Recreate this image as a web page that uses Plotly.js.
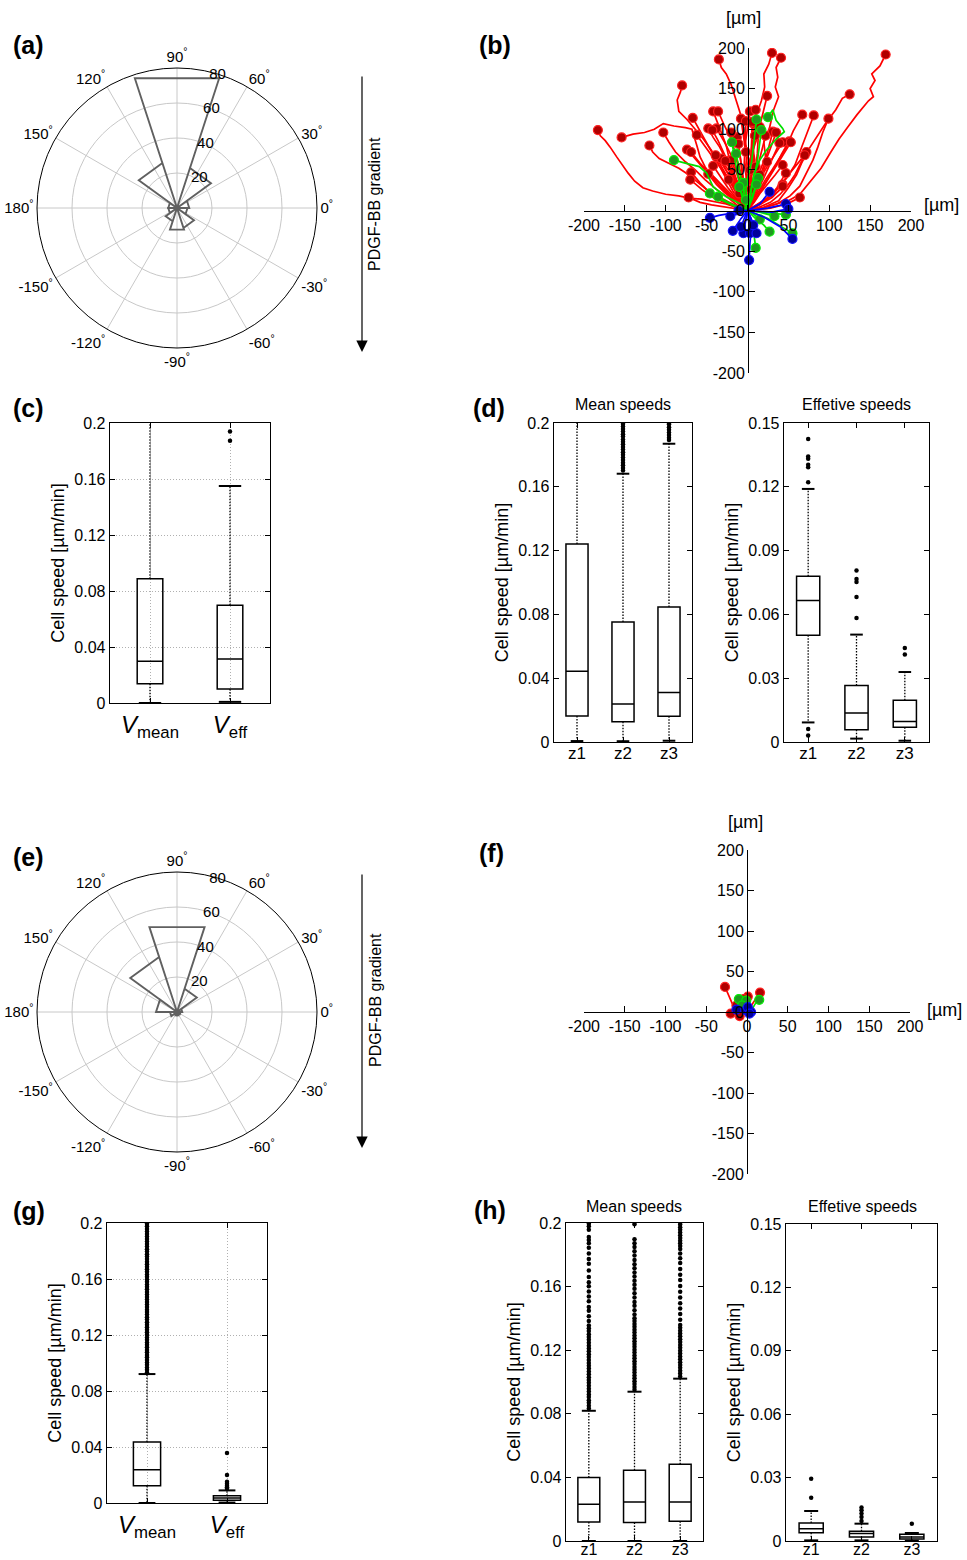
<!DOCTYPE html>
<html><head><meta charset="utf-8">
<script src="https://cdn.plot.ly/plotly-3.0.1.min.js"></script>
<style>body{margin:0;background:#fff}#chart{width:967px;height:1560px}</style>
</head><body><div id="chart"></div>
<script>
// ---------------- DATA ----------------
// Rose histograms (bin centres in degrees, counts)
const roseBins = [18, 54, 90, 126, 162, 198, 234, 270, 306, 342];
const roseCountsA = [7, 24, 78, 27, 5, 5, 8, 13, 12, 6];
const roseCountsE = [3, 14, 51, 33, 12, 4, 2, 2, 2, 2];
const angleTickVals = [0, 30, 60, 90, 120, 150, 180, 210, 240, 270, 300, 330];
const angleTickText = ['0','30','60','90','120','150','180','-150','-120','-90','-60','-30'];
const radialTicks = [20, 40, 60, 80];

// Trajectories panel (b)  [x, y] in µm
const redTracksB = [
 [[0,0],[3,12],[8,28],[4,45],[9,62],[6,80],[12,98],[11,118],[17,135],[21,152],[20,168],[26,180],[30,194]],
 [[0,0],[6,14],[12,30],[15,48],[22,66],[20,84],[27,102],[32,124],[38,140],[34,152],[37,164],[35,176],[41,188]],
 [[0,0],[-3,18],[-1,38],[2,60],[-2,80],[-5,102],[-9,120],[-15,138],[-20,155],[-26,168],[-32,176],[-35,186]],
 [[0,2],[18,3],[35,8],[50,12],[64,20],[78,38],[90,52],[102,72],[112,88],[122,102],[134,118],[148,135],[154,140],[150,150],[156,160],[152,168],[162,178],[169,192]],
 [[0,0],[20,4],[38,12],[50,28],[60,44],[66,58],[74,74],[84,90],[96,108],[108,124],[116,138],[125,143]],
 [[0,0],[-6,12],[-14,26],[-24,40],[-34,58],[-44,74],[-54,88],[-64,100],[-74,112],[-84,122],[-86,136],[-82,146],[-80,154]],
 [[0,0],[4,16],[2,34],[8,52],[6,72],[12,90],[16,108],[20,124],[24,141]],
 [[0,0],[-5,14],[-10,30],[-16,46],[-22,62],[-26,80],[-32,96],[-38,110],[-42,122]],
 [[0,0],[-2,18],[-6,36],[-10,54],[-16,72],[-20,88],[-28,104],[-32,114],[-36,122]],
 [[0,0],[3,20],[-1,40],[2,60],[-3,80],[0,100],[2,112],[3,122]],
 [[0,0],[-3,22],[-1,44],[4,66],[6,86],[9,106],[10,124]],
 [[0,0],[-8,10],[-18,24],[-26,40],[-36,58],[-46,76],[-54,90],[-62,104],[-67,114]],
 [[0,0],[8,12],[16,24],[24,38],[34,54],[42,70],[50,84],[56,98],[62,110],[67,118]],
 [[0,0],[12,6],[24,14],[36,26],[48,40],[58,56],[64,72],[70,88],[76,104],[81,117]],
 [[0,0],[18,3],[36,8],[52,18],[64,30],[72,46],[80,62],[86,78],[92,96],[99,113]],
 [[0,0],[-12,3],[-26,8],[-40,11],[-56,14],[-70,15],[-84,18],[-100,20],[-116,24],[-128,28],[-138,36],[-146,46],[-152,54],[-160,66],[-168,78],[-174,86],[-180,92],[-183,99]],
 [[0,0],[-10,8],[-22,18],[-34,30],[-44,42],[-52,54],[-58,66],[-62,80],[-66,92],[-68,100],[-76,102],[-90,104],[-103,107],[-114,100],[-126,96],[-140,94],[-154,90]],
 [[0,0],[-12,6],[-24,16],[-38,26],[-52,38],[-64,50],[-76,60],[-88,72],[-96,84],[-103,96]],
 [[0,0],[-6,12],[-14,26],[-24,40],[-34,54],[-44,68],[-52,80],[-58,88],[-62,93]],
 [[0,0],[-4,14],[-10,30],[-18,46],[-26,62],[-34,78],[-42,90],[-48,101]],
 [[0,0],[-2,16],[-8,34],[-14,52],[-20,68],[-28,84],[-34,94],[-38,101]],
 [[0,0],[2,18],[-1,38],[-4,58],[-3,78],[-6,96],[-8,113]],
 [[0,0],[-2,15],[-4,32],[-6,48],[-9,66],[-11,80],[-13,90]],
 [[0,0],[-10,4],[-22,10],[-34,16],[-48,24],[-60,34],[-72,44],[-84,52],[-96,58],[-108,64],[-116,72],[-120,80]],
 [[0,0],[-8,8],[-18,18],[-30,30],[-42,42],[-54,52],[-64,64],[-74,75]],
 [[0,0],[-8,6],[-18,16],[-28,26],[-38,38],[-48,48],[-58,58],[-69,72]],
 [[0,0],[6,12],[14,24],[22,38],[30,50],[38,62],[44,72],[51,85]],
 [[0,0],[4,12],[10,26],[16,40],[24,54],[32,66],[38,76],[43,84]],
 [[0,0],[10,6],[22,14],[34,24],[44,36],[54,48],[62,58],[68,66],[72,72]],
 [[0,0],[14,4],[28,10],[40,20],[50,32],[58,44],[64,56],[70,68]],
 [[0,0],[-4,10],[-10,22],[-16,34],[-24,46],[-30,56],[-38,66]],
 [[0,0],[-6,12],[-10,24],[-16,36],[-22,48],[-28,56],[-32,64]],
 [[0,0],[-2,12],[-6,24],[-10,36],[-14,48],[-18,56],[-20,62]],
 [[0,0],[2,14],[4,28],[0,42],[-2,56],[-1,66],[-2,72]],
 [[0,0],[4,10],[8,20],[12,32],[16,42],[20,52],[24,60]],
 [[0,0],[8,4],[18,10],[28,18],[36,28],[42,38],[47,46]],
 [[0,0],[-12,4],[-24,10],[-36,16],[-48,24],[-58,34],[-69,47]],
 [[0,0],[-8,6],[-18,14],[-28,22],[-38,32],[-48,45]],
 [[0,0],[-14,4],[-28,10],[-42,16],[-56,26],[-70,38]],
 [[0,0],[-6,8],[-12,18],[-18,28],[-23,38]],
 [[0,0],[10,4],[20,10],[30,16],[38,24],[43,32]],
 [[0,0],[-14,2],[-30,5],[-44,7],[-58,10],[-72,16]],
 [[0,0],[14,1],[28,3],[40,6],[52,10],[64,16]],
 [[0,0],[2,18],[5,38],[3,58],[6,78],[5,94],[7,107]],
 [[0,0],[4,16],[8,34],[10,52],[12,70],[13,88],[15,103]],
 [[0,0],[6,14],[12,30],[18,48],[22,64],[26,80],[31,97]],
 [[0,0],[6,12],[14,26],[20,40],[26,54],[32,68],[39,83]],
 [[0,0],[-2,16],[-6,32],[-10,50],[-14,66],[-18,82],[-20,96]],
 [[0,0],[-1,14],[-4,30],[-6,46],[-8,62],[-11,82]],
 [[0,0],[-8,8],[-16,18],[-24,28],[-32,40],[-42,55]],
 [[0,0],[3,8],[6,18],[10,28],[13,36],[15,44]],
 [[0,0],[-3,6],[-6,12],[-10,21]],
 [[0,0],[-5,16],[-12,34],[-20,52],[-28,68],[-36,86],[-43,99]],
 [[0,0],[-4,12],[-10,26],[-16,40],[-22,52],[-27,61]],
 [[0,0],[-6,12],[-14,28],[-22,42],[-30,56],[-39,68]],
 [[0,0],[2,12],[0,24],[3,36],[1,44],[3,50]],
 [[0,0],[3,12],[6,24],[8,36],[9,46],[10,54]],
 [[0,0],[2,8],[3,16],[4,26]],
 [[0,0],[8,10],[16,22],[26,34],[34,44],[43,56]],
 [[0,0],[10,6],[20,12],[30,18],[38,24],[43,30]],
 [[0,0],[4,16],[8,34],[12,52],[16,68],[20,82],[22,92]],
 [[0,0],[6,16],[12,32],[18,50],[24,66],[30,82],[35,96]],
 [[0,0],[10,14],[20,30],[30,46],[38,60],[46,72],[53,84]],
 [[0,0],[2,16],[4,34],[6,52],[7,70],[9,92]],
 [[0,0],[-2,20],[1,42],[-1,64],[-3,86],[-2,110]],
 [[0,0],[3,18],[1,38],[4,60],[5,84],[6,109]]
];
const greenTracksB = [
 [[0,0],[-10,9],[-26,17],[-42,29],[-50,46],[-59,54],[-75,58],[-90,62]],
 [[0,0],[3,15],[8,45],[15,62],[23,74],[35,88],[45,97],[43,101],[35,111],[31,124],[25,115]],
 [[0,0],[-2,30],[5,60],[8,90],[11,112]],
 [[0,0],[5,30],[12,60],[17,99]],
 [[0,0],[-8,25],[-14,55],[-19,84]],
 [[0,0],[-5,25],[-10,50],[-14,70]],
 [[0,0],[5,15],[13,40]],
 [[0,0],[6,15],[11,32]],
 [[0,0],[-3,15],[-5,34]],
 [[0,0],[-15,5],[-30,12],[-46,21]],
 [[0,0],[-20,8],[-36,17]],
 [[0,0],[15,-2],[33,-7]],
 [[0,0],[25,-3],[47,-5]],
 [[0,0],[10,-10],[20,-18],[27,-26]],
 [[0,0],[25,-10],[45,-22],[55,-28]],
 [[0,0],[8,-5],[15,-11]],
 [[0,0],[5,-15],[8,-30],[10,-46]],
 [[0,0],[-2,13]],
 [[0,0],[-6,15],[-10,29]]
];
const blueTracksB = [
 [[0,0],[-20,-3],[-35,-6],[-46,-9]],
 [[0,0],[-10,-4],[-21,-7]],
 [[0,0],[-11,0]],
 [[0,0],[-8,-10],[-18,-25]],
 [[0,0],[-3,-15],[-5,-28]],
 [[0,0],[2,-15],[3,-28]],
 [[0,0],[6,-14],[11,-28]],
 [[0,0],[5,-20],[3,-40],[2,-61]],
 [[0,0],[20,-8],[40,-20],[55,-35]],
 [[0,0],[4,-9],[7,-18]],
 [[0,0],[-4,-10],[-8,-20]],
 [[0,0],[25,3],[47,8]],
 [[0,0],[15,8],[27,23]],
 [[0,0],[30,-2],[50,2]]
];
// Trajectories panel (f)
const redTracksF = [
 [[0,0],[-8,6],[-18,10],[-22,20],[-27,31]],
 [[0,0],[5,8],[10,15],[16,24]],
 [[0,0],[3,10],[1,19]],
 [[0,0],[-10,-1],[-20,-2]],
 [[0,0],[-9,-5]],
 [[0,0],[-7,4],[-13,8]],
 [[0,0],[-2,8],[-4,16]]
];
const greenTracksF = [
 [[0,0],[-5,8],[-10,16]],
 [[0,0],[6,3],[10,10],[15,15]],
 [[0,0],[-1,14]],
 [[0,0],[-6,8]]
];
const blueTracksF = [
 [[0,0],[-1,2]],
 [[0,0],[5,0]],
 [[0,0],[-13,3]],
 [[0,0],[1,6]],
 [[0,0],[3,-2]]
];
const trajTicks = [-200,-150,-100,-50,0,50,100,150,200];

// Box plots
const catsV = ['<i>V</i><sub>mean</sub>', '<i>V</i><sub>eff</sub>'];
const catsZ = ['z1', 'z2', 'z3'];
const ticks02 = [0, 0.04, 0.08, 0.12, 0.16, 0.2];
const ticks02Text = ['0', '0.04', '0.08', '0.12', '0.16', '0.2'];
const ticks015 = [0, 0.03, 0.06, 0.09, 0.12, 0.15];
const ticks015Text = ['0', '0.03', '0.06', '0.09', '0.12', '0.15'];

// (c)
const cQ1 = [0.0137, 0.0100], cMed = [0.0298, 0.0314], cQ3 = [0.0888, 0.0698];
const cLow = [0.0, 0.0008], cUp = [0.25, 0.155];
const cOut = [[], [0.1874, 0.194]];
// (d) mean speeds
const dmQ1 = [0.0163, 0.0127, 0.0161], dmMed = [0.0443, 0.0238, 0.0311], dmQ3 = [0.1241, 0.0752, 0.0846];
const dmLow = [0.0006, 0.0005, 0.0008], dmUp = [0.25, 0.1682, 0.187];
const dmOut = [[],
 [0.1702,0.1718,0.1735,0.1751,0.1768,0.1784,0.1801,0.1817,0.1834,0.1849,0.1866,0.1882,0.1897,0.1915,0.193,0.1947,0.1962,0.1978,0.1993],
 [0.1893,0.1908,0.1925,0.1941,0.1957,0.1974,0.1992]];
// (d) effective speeds
const deQ1 = [0.0502, 0.0058, 0.0069], deMed = [0.0665, 0.0136, 0.0096], deQ3 = [0.0779, 0.0266, 0.0196];
const deLow = [0.0092, 0.0016, 0.0006], deUp = [0.119, 0.0505, 0.0329];
const deOut = [[0.1425,0.1343,0.1332,0.1304,0.1292,0.1221,0.0061,0.0031],
 [0.0806,0.0766,0.0752,0.0682,0.0583],
 [0.0442,0.0411]];
// (g)
const gQ1 = [0.0124, 0.0019], gMed = [0.0238, 0.0036], gQ3 = [0.0436, 0.0052];
const gLow = [0.0, 0.0003], gUp = [0.0921, 0.009];
const gOut = [
 [0.0932,0.0951,0.0968,0.0987,0.1003,0.1022,0.1041,0.1057,0.1076,0.1093,0.1112,0.113,0.1147,0.1166,0.1183,0.1202,0.122,0.1237,0.1256,0.1273,0.1291,0.131,0.1327,0.1346,0.1364,0.1381,0.14,0.1418,0.1435,0.1454,0.1471,0.149,0.1507,0.1526,0.1544,0.1561,0.158,0.1597,0.1616,0.1633,0.1652,0.167,0.1687,0.1706,0.1723,0.1742,0.176,0.1777,0.1796,0.1813,0.1832,0.185,0.1867,0.1886,0.1903,0.1922,0.194,0.1957,0.1976,0.1994],
 [0.0357,0.0200,0.0152,0.0138,0.0124,0.0112,0.0102]];
// (h) mean speeds
const hmQ1 = [0.0120, 0.0116, 0.0124], hmMed = [0.0231, 0.0246, 0.0246], hmQ3 = [0.0399, 0.0445, 0.0483];
const hmLow = [0.0, 0.0, 0.0], hmUp = [0.0819, 0.0939, 0.1021];
const hmOut = [
 [0.0834,0.0851,0.0869,0.0886,0.0905,0.0922,0.094,0.0958,0.0976,0.0995,0.1012,0.103,0.1048,0.1066,0.1085,0.1102,0.112,0.1138,0.1157,0.1175,0.1193,0.121,0.1228,0.1247,0.1265,0.1283,0.1301,0.132,0.1338,0.1356,0.1384,0.1413,0.1448,0.1472,0.1508,0.1537,0.1569,0.1602,0.1628,0.1661,0.1702,0.1744,0.1773,0.1808,0.1845,0.1873,0.1893,0.1912,0.1958,0.1979,0.1995],
 [0.0952,0.0969,0.0987,0.1005,0.1023,0.1041,0.1059,0.1077,0.1095,0.1113,0.1131,0.1149,0.1167,0.1185,0.1203,0.1221,0.1239,0.1257,0.1275,0.1293,0.1311,0.1329,0.1347,0.1365,0.1383,0.1401,0.1425,0.1452,0.1479,0.1503,0.1531,0.1558,0.1586,0.1611,0.1637,0.1664,0.1689,0.1716,0.1741,0.1768,0.1795,0.1822,0.1849,0.1873,0.1898,0.1992],
 [0.1035,0.1053,0.1071,0.1089,0.1107,0.1125,0.1143,0.1161,0.1179,0.1197,0.1215,0.1233,0.1251,0.1269,0.1287,0.1305,0.1323,0.1341,0.1359,0.1392,0.1428,0.1463,0.1495,0.1532,0.1568,0.1603,0.1642,0.1675,0.1711,0.1748,0.1779,0.1808,0.1836,0.1855,0.1872,0.1889,0.1906,0.1923,0.194,0.1957,0.1974,0.1991]];
// (h) effective speeds
const heQ1 = [0.0039, 0.0019, 0.0009], heMed = [0.0058, 0.0035, 0.0019], heQ3 = [0.0085, 0.0046, 0.0032];
const heLow = [0.0003, 0.0003, 0.0001], heUp = [0.0142, 0.0082, 0.0038];
const heOut = [[0.0294, 0.0205], [0.0095, 0.0114, 0.013, 0.0145, 0.0158], [0.0082]];

// ---------------- HELPERS ----------------
const W = 967, H = 1560;
const xd = (a, b) => [a / W, b / W];
const yd = (t, b) => [1 - b / H, 1 - t / H];
const px = x => x / W;
const py = y => 1 - y / H;
const FONT = 'Liberation Sans, Arial, sans-serif';

function rose(counts, subplot) {
  const r = [], th = [];
  roseBins.forEach((c, i) => {
    r.push(0, counts[i], counts[i], 0);
    th.push(c - 18, c - 18, c + 18, c + 18);
  });
  return {type: 'scatterpolar', subplot, r, theta: th, mode: 'lines',
          line: {color: '#606060', width: 1.9}, hoverinfo: 'skip'};
}

function tracks(list, xa, ya, lineColor, fill, edge) {
  const x = [], y = [];
  list.forEach(t => { t.forEach(p => { x.push(p[0]); y.push(p[1]); }); x.push(null); y.push(null); });
  const ex = list.map(t => t[t.length - 1][0]);
  const ey = list.map(t => t[t.length - 1][1]);
  return [
    {type: 'scatter', x, y, xaxis: xa, yaxis: ya, mode: 'lines', line: {color: lineColor, width: 1.7}, connectgaps: false},
    {type: 'scatter', x: ex, y: ey, xaxis: xa, yaxis: ya, mode: 'markers',
     marker: {size: 9, color: fill, line: {color: edge, width: 1.2}}}
  ];
}

function boxPanel(xa, ya, q1, med, q3, lo, up, outs, bw, cap) {
  const pos = q1.map((_, i) => i + 1);
  const wx = [], wy = [];
  pos.forEach((p, i) => { wx.push(p, p, null, p, p, null); wy.push(q3[i], up[i], null, q1[i], lo[i], null); });
  const ox = [], oy = [];
  outs.forEach((arr, i) => arr.forEach(v => { ox.push(pos[i]); oy.push(v); }));
  return [
    {type: 'scatter', x: wx, y: wy, xaxis: xa, yaxis: ya, mode: 'lines',
     line: {color: '#000', width: 1.3, dash: '1.5px,1.5px'}},
    {type: 'scatter', x: pos.concat(pos), y: up.concat(lo), xaxis: xa, yaxis: ya, mode: 'markers',
     marker: {symbol: 'line-ew', size: cap, line: {color: '#000', width: 2}}},
    {type: 'box', orientation: 'v', x: pos, q1, median: med, q3, lowerfence: q1, upperfence: q3,
     xaxis: xa, yaxis: ya, width: bw, whiskerwidth: 0, boxpoints: false,
     fillcolor: 'rgba(255,255,255,0)', line: {color: '#000', width: 1.5}},
    {type: 'scatter', x: ox, y: oy, xaxis: xa, yaxis: ya, mode: 'markers',
     marker: {size: 4.5, color: '#000'}}
  ];
}

// ---------------- TRACES ----------------
let data = [];
data.push(rose(roseCountsA, 'polar'));
data.push(rose(roseCountsE, 'polar2'));
data = data.concat(tracks(redTracksB, 'x', 'y', '#ff0000', '#b00000', '#ff2020'));
data = data.concat(tracks(greenTracksB, 'x', 'y', '#00e000', '#1f9a1f', '#00ee00'));
data = data.concat(tracks(blueTracksB, 'x', 'y', '#0000ff', '#00009a', '#1010ff'));
data = data.concat(tracks(redTracksF, 'x5', 'y5', '#ff0000', '#b00000', '#ff2020'));
data = data.concat(tracks(greenTracksF, 'x5', 'y5', '#00e000', '#1f9a1f', '#00ee00'));
data = data.concat(tracks(blueTracksF, 'x5', 'y5', '#0000ff', '#00009a', '#1010ff'));
data = data.concat(boxPanel('x2', 'y2', cQ1, cMed, cQ3, cLow, cUp, cOut, 0.32, 16));
data = data.concat(boxPanel('x3', 'y3', dmQ1, dmMed, dmQ3, dmLow, dmUp, dmOut, 0.48, 9));
data = data.concat(boxPanel('x4', 'y4', deQ1, deMed, deQ3, deLow, deUp, deOut, 0.48, 9));
data = data.concat(boxPanel('x6', 'y6', gQ1, gMed, gQ3, gLow, gUp, gOut, 0.34, 12));
data = data.concat(boxPanel('x7', 'y7', hmQ1, hmMed, hmQ3, hmLow, hmUp, hmOut, 0.48, 10));
data = data.concat(boxPanel('x8', 'y8', heQ1, heMed, heQ3, heLow, heUp, heOut, 0.48, 10));

// ---------------- LAYOUT ----------------
function polarCfg(dx, dy) {
  return {
    domain: {x: dx, y: dy}, bgcolor: '#fff', hole: 0,
    radialaxis: {range: [0, 80], tickvals: radialTicks, ticktext: radialTicks.map(String), angle: 80,
                 tickangle: 80, side: 'clockwise', showline: false, ticks: '', gridcolor: '#c8c8c8', gridwidth: 1,
                 tickfont: {size: 15, color: '#000'}},
    angularaxis: {rotation: 0, direction: 'counterclockwise', tickvals: angleTickVals,
                  ticktext: angleTickText.map(t => t + '<sup>°</sup>'), ticks: '',
                  showline: true, linecolor: '#000', linewidth: 1, gridcolor: '#c8c8c8', gridwidth: 1,
                  tickfont: {size: 15, color: '#000'}}
  };
}
function trajX(dom, pos) {
  return {domain: dom, range: [-200, 200], anchor: 'free', position: pos, tickvals: trajTicks,
          ticktext: trajTicks.map(String), ticks: 'inside', ticklen: 6, tickcolor: '#000', showline: true,
          linecolor: '#000', linewidth: 1.2, showgrid: false, zeroline: false, tickfont: {size: 16}, fixedrange: true};
}
function boxX(dom, anchor, n, txt, grid, size, shift) {
  return {domain: dom, anchor, range: [0.5, n + 0.5], tickvals: txt.map((_, i) => i + 1), ticktext: txt,
          ticks: 'inside', ticklen: 5, tickcolor: '#000', mirror: 'allticks', showline: true, linecolor: '#000',
          linewidth: 1.3, showgrid: grid, gridcolor: '#b0b0b0', griddash: '1px,2px', zeroline: false,
          ticklabelstandoff: shift, tickfont: {size}};
}
function boxY(dom, anchor, max, tv, tt, grid) {
  return {domain: dom, anchor, range: [0, max], tickvals: tv, ticktext: tt, ticks: 'inside', ticklen: 5,
          tickcolor: '#000', mirror: 'allticks', showline: true, linecolor: '#000', linewidth: 1.3,
          showgrid: grid, gridcolor: '#b0b0b0', griddash: '1px,2px', zeroline: false, tickfont: {size: 16},
          title: {text: 'Cell speed [µm/min]', font: {size: 18}, standoff: 5}};
}

const ann = [];
function label(t, x, y) {
  ann.push({text: '<b>' + t + '</b>', x: px(x), y: py(y), xref: 'paper', yref: 'paper', xanchor: 'left',
            yanchor: 'middle', showarrow: false, font: {size: 25, family: 'Arial, Liberation Sans'}});
}
function txt(t, x, y, size, angle) {
  ann.push({text: t, x: px(x), y: py(y), xref: 'paper', yref: 'paper', xanchor: 'center',
            yanchor: 'middle', showarrow: false, textangle: angle || 0, font: {size}});
}
function arrow(x, y0, y1) {
  ann.push({text: ' ', x: px(x), y: py(y1), xref: 'paper', yref: 'paper', showarrow: true,
            ax: 0, ay: -(y1 - y0), arrowhead: 2, arrowsize: 1.9, arrowwidth: 1.2, arrowcolor: '#000'});
}
label('(a)', 11, 45); label('(b)', 477, 45); label('(c)', 11, 408); label('(d)', 471, 408);
label('(e)', 11, 857); label('(f)', 477, 853); label('(g)', 11, 1211); label('(h)', 472, 1210);
arrow(362, 68, 352); arrow(362, 866, 1148);
txt('PDGF-BB gradient', 375, 204, 16, -90);
txt('PDGF-BB gradient', 375, 1000, 16, -90);
txt('[µm]', 743, 18, 18); txt('[µm]', 941, 205, 18);
txt('[µm]', 745, 822, 18); txt('[µm]', 944, 1010, 18);
txt('Mean speeds', 623, 405, 16); txt('Effetive speeds', 856, 405, 16);
txt('Mean speeds', 634, 1206, 16); txt('Effetive speeds', 862, 1206, 16);

const layout = {
  width: W, height: H, margin: {l: 0, r: 0, t: 0, b: 0}, showlegend: false,
  paper_bgcolor: '#fff', plot_bgcolor: '#fff', font: {family: FONT, color: '#000'},
  polar: polarCfg(xd(37, 317), yd(68, 348)),
  polar2: polarCfg(xd(37, 317), yd(872, 1152)),
  xaxis: trajX(xd(584, 911), py(210.5)),
  yaxis: trajX(yd(48, 373), px(748)),
  xaxis5: trajX(xd(584, 910), py(1012)),
  yaxis5: trajX(yd(850, 1174), px(747)),
  xaxis2: boxX(xd(110, 270), 'y2', 2, catsV, true, 24, 0),
  yaxis2: boxY(yd(423, 703), 'x2', 0.2, ticks02, ticks02Text, true),
  xaxis3: boxX(xd(554, 692), 'y3', 3, catsZ, false, 17, -5),
  yaxis3: boxY(yd(423, 742), 'x3', 0.2, ticks02, ticks02Text, false),
  xaxis4: boxX(xd(784, 929), 'y4', 3, catsZ, false, 17, -5),
  yaxis4: boxY(yd(423, 742), 'x4', 0.15, ticks015, ticks015Text, false),
  xaxis6: boxX(xd(107, 267), 'y6', 2, catsV, true, 24, 0),
  yaxis6: boxY(yd(1223, 1503), 'x6', 0.2, ticks02, ticks02Text, true),
  xaxis7: boxX(xd(566, 703), 'y7', 3, catsZ, false, 16, -7),
  yaxis7: boxY(yd(1223, 1541), 'x7', 0.2, ticks02, ticks02Text, false),
  xaxis8: boxX(xd(786, 937), 'y8', 3, catsZ, false, 16, -7),
  yaxis8: boxY(yd(1224, 1541), 'x8', 0.15, ticks015, ticks015Text, false),
  annotations: ann
};

Plotly.newPlot('chart', data, layout, {staticPlot: true, displayModeBar: false});
</script></body></html>
